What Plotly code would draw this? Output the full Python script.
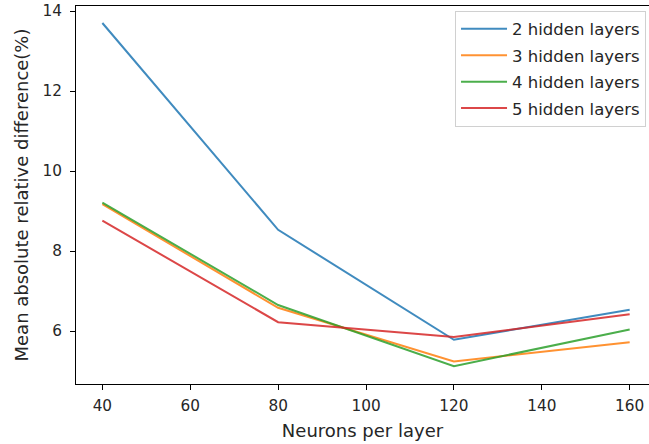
import plotly.graph_objects as go

neurons = [40, 80, 120, 160]
layers_2 = [13.70, 8.53, 5.78, 6.53]
layers_3 = [9.17, 6.58, 5.24, 5.72]
layers_4 = [9.21, 6.65, 5.12, 6.04]
layers_5 = [8.76, 6.22, 5.85, 6.42]
names = ["2 hidden layers", "3 hidden layers", "4 hidden layers", "5 hidden layers"]
colors = ["#1f77b4", "#ff7f0e", "#2ca02c", "#d62728"]
x_ticks = [40, 60, 80, 100, 120, 140, 160]
y_ticks = [6, 8, 10, 12, 14]

fig = go.Figure()
for i, (vals, name, col) in enumerate(zip([layers_2, layers_3, layers_4, layers_5], names, colors)):
    fig.add_trace(go.Scatter(x=neurons, y=vals, mode="lines", name=name,
                             line=dict(color=col, width=2), opacity=0.85,
                             legendgroup=f"g{i}"))

fs = 15.3
font = dict(family="DejaVu Sans", size=fs, color="#262626")
fig.update_layout(
    width=649, height=444,
    margin=dict(l=76, r=0, t=6, b=60),
    paper_bgcolor="white", plot_bgcolor="white",
    font=font,
    showlegend=True,
    legend=dict(x=0.9948, y=0.988, xanchor="right", yanchor="top",
                bordercolor="#d0d0d0", borderwidth=1, bgcolor="rgba(255,255,255,0.8)",
                font=dict(family="DejaVu Sans", size=16.5, color="#262626"),
                itemwidth=46, tracegroupgap=2),
    xaxis=dict(range=[34.0, 164.4], tickvals=x_ticks, showgrid=False, zeroline=False,
               showline=True, linecolor="#000000", linewidth=1, mirror=True,
               ticks="outside", ticklen=5, tickcolor="#000000", automargin=False,
               ticklabelstandoff=3,
               title=dict(text="Neurons per layer", standoff=10)),
    yaxis=dict(range=[4.675, 14.125], tickvals=y_ticks, showgrid=False, zeroline=False,
               showline=True, linecolor="#000000", linewidth=1, mirror=False,
               ticks="outside", ticklen=5, tickcolor="#000000", automargin=False,
               ticklabelstandoff=5,
               title=dict(text="Mean absolute relative difference(%)", standoff=9)),
)
fig.write_html("out.html", config={"displayModeBar": False},
               post_script="document.body.style.margin='0';document.body.style.padding='0';")
